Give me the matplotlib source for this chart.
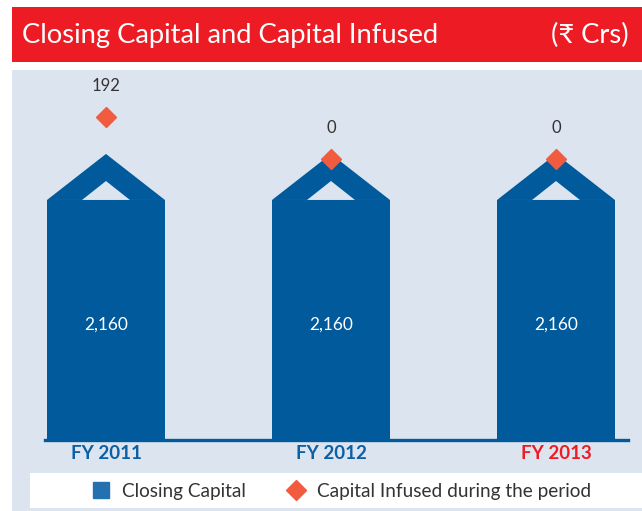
import numpy as np
import matplotlib
matplotlib.use("Agg")
import matplotlib.pyplot as plt
from matplotlib.patches import Rectangle
from matplotlib.lines import Line2D

# ---- data ----
categories = ["FY 2011", "FY 2012", "FY 2013"]
closing_capital = [2160, 2160, 2160]
capital_infused = [192, 0, 0]
title = "Closing Capital and Capital Infused"
unit = "(₹ Crs)"
legend_labels = ["Closing Capital", "Capital Infused during the period"]

# ---- style ----
RED = "#ED1C24"
BG = "#DCE4EF"
BAR = "#005A9B"
DIAM = "#F15B40"
LEGSQ = "#2471AF"
TXT = "#333333"
plt.rcParams['font.family'] = ['Lato', 'DejaVu Sans']

W, H = 642, 511
fig = plt.figure(figsize=(W / 100, H / 100), dpi=100)

def fx(px):
    return px / W

def fy(py):
    return 1 - py / H

# background panel
fig.patches.append(Rectangle((fx(12), 0), fx(642) - fx(12), fy(70), transform=fig.transFigure,
                             facecolor=BG, edgecolor="none", zorder=-3))
# title bar
fig.patches.append(Rectangle((fx(12), fy(62)), fx(642) - fx(12), fy(7) - fy(62), transform=fig.transFigure,
                             facecolor=RED, edgecolor="none", zorder=-2))
fig.text(fx(22), fy(35), title, color="white", fontsize=19.7, va="center", ha="left")
fig.text(fx(629), fy(35), unit, color="white", fontsize=19.7, va="center", ha="right")
# legend box
fig.patches.append(Rectangle((fx(30), fy(508)), fx(642) - fx(30), fy(473) - fy(508), transform=fig.transFigure,
                             facecolor="white", edgecolor="none", zorder=-2))

ax = fig.add_axes([fx(45), fy(439.5), fx(628) - fx(45), fy(70) - fy(439.5)])
ax.set_facecolor("none")
x = np.arange(len(categories))
bw = 0.524
ax.bar(x, closing_capital, width=bw, color=BAR, zorder=2)
ax.set_xlim(-0.271, 2.32)
ax.set_ylim(0, 3332)

roof_h = 415
inner_h = 171
inner_w = 0.213
for xi, v in zip(x, closing_capital):
    ax.fill([xi - bw / 2, xi, xi + bw / 2], [v, v + roof_h, v], color=BAR, lw=0, zorder=2)
    ax.fill([xi - inner_w / 2, xi, xi + inner_w / 2], [v, v + inner_h, v], color=BG, lw=0, zorder=3)
    ax.text(xi, v / 2 - 45, f"{v:,}", color="white", fontsize=12.5, ha="center", va="center", zorder=4)

for s in ["top", "left", "right"]:
    ax.spines[s].set_visible(False)
ax.spines["bottom"].set_color(BAR)
ax.spines["bottom"].set_linewidth(2.4)
ax.spines["bottom"].set_zorder(5)
ax.set_yticks([])
ax.set_xticks(x)
ax.set_xticklabels(categories, fontsize=13.5, fontweight="bold")
ax.tick_params(axis="x", length=0, pad=4)
for lbl, c in zip(ax.get_xticklabels(), ["#0B5FA5", "#0B5FA5", RED]):
    lbl.set_color(c)

ax2 = ax.twinx()
ax2.set_ylim(-1282, 407)
ax2.plot(x, capital_infused, linestyle="none", marker="D", markersize=10.5, color=DIAM, zorder=6)
for xi, v in zip(x, capital_infused):
    ax2.annotate(f"{v}", (xi, v), xytext=(0, 22), textcoords="offset points", ha="center", va="center",
                 fontsize=12, color=TXT)
ax2.axis("off")

handles = [Line2D([], [], linestyle="none", marker="s", markersize=11, color=LEGSQ),
           Line2D([], [], linestyle="none", marker="D", markersize=10, color=DIAM)]
fig.legend(handles, legend_labels, loc="center left", bbox_to_anchor=(fx(90), fy(491)), ncol=2,
           frameon=False, fontsize=13.7, handletextpad=0.5, columnspacing=2.0, labelcolor=TXT,
           borderaxespad=0, borderpad=0, handlelength=1.2)

fig.savefig("out.png", dpi=100)
